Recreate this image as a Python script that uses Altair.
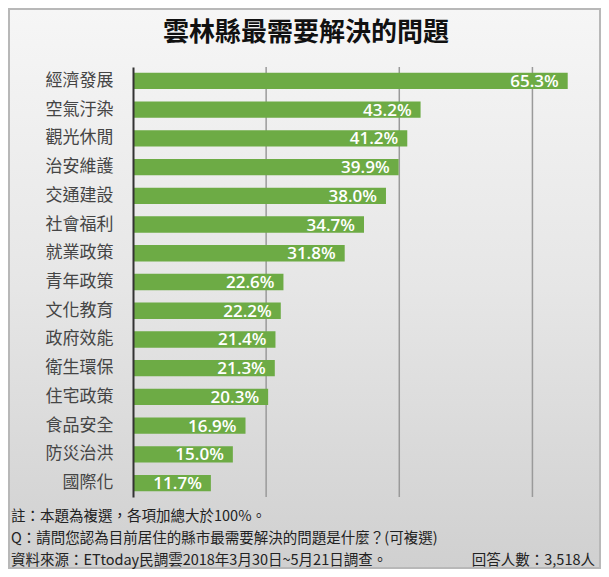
import altair as alt
import pandas as pd

categories = ["經濟發展", "空氣汙染", "觀光休閒", "治安維護", "交通建設", "社會福利", "就業政策",
              "青年政策", "文化教育", "政府效能", "衛生環保", "住宅政策", "食品安全", "防災治洪", "國際化"]
values = [65.3, 43.2, 41.2, 39.9, 38.0, 34.7, 31.8, 22.6, 22.2, 21.4, 21.3, 20.3, 16.9, 15.0, 11.7]
title_text = "雲林縣最需要解決的問題"
note_lines = ["註：本題為複選，各項加總大於100%。",
              "Q：請問您認為目前居住的縣市最需要解決的問題是什麼？(可複選)",
              "資料來源：ETtoday民調雲2018年3月30日~5月21日調查。"]
respondents = "回答人數：3,518人"

df = pd.DataFrame({"cat": categories, "val": values})
df["label"] = [f"{v:.1f}%" for v in values]

FONT = "Noto Sans CJK TC"
W, H = 466, 430

grad = {"gradient": "linear", "x1": 0, "x2": 0, "y1": 0, "y2": 1,
        "stops": [{"color": "#f6f6f6", "offset": 0},
                  {"color": "#e6e6e6", "offset": 0.5},
                  {"color": "#d0d0d0", "offset": 1}]}

bg = alt.Chart(pd.DataFrame({"a": [0]})).mark_rect(
    fill=grad, stroke="#b8b8b8", strokeWidth=2
).encode(x=alt.value(-124), x2=alt.value(W + 1), y=alt.value(-58), y2=alt.value(H + 71))

xscale = alt.Scale(domain=[0, 70])
yenc = alt.Y("cat:N", sort=categories, scale=alt.Scale(paddingInner=0.43, paddingOuter=0.2),
             axis=alt.Axis(title=None, labelFont=FONT, labelFontSize=17, labelColor="#454545",
                           labelPadding=20, ticks=False, domain=True, domainColor="#333333",
                           domainWidth=2, zindex=1))

grid = alt.Chart(pd.DataFrame({"g": [20, 40, 60]})).mark_rule(color="#9a9a9a", strokeWidth=1.5).encode(
    x=alt.X("g:Q", scale=xscale, axis=None), y=alt.value(0), y2=alt.value(H))

bars = alt.Chart(df).mark_bar(color="#6dab45").encode(
    x=alt.X("val:Q", scale=xscale, axis=None),
    y=yenc)

labels = alt.Chart(df).mark_text(align="right", baseline="middle", dx=-9, dy=1, color="white",
                                 font="Open Sans", fontSize=17, fontWeight=600).encode(
    x=alt.X("val:Q", scale=xscale), y=alt.Y("cat:N", sort=categories), text="label:N")

title = alt.Chart(pd.DataFrame({"t": [title_text]})).mark_text(
    font=FONT, fontSize=26, fontWeight="bold", color="#111111", align="center", baseline="middle"
).encode(x=alt.value(173), y=alt.value(-34), text="t:N")

notes = []
for i, line in enumerate(note_lines):
    notes.append(alt.Chart(pd.DataFrame({"t": [line]})).mark_text(
        font=FONT, fontSize=14.5, color="#222222", align="left", baseline="middle"
    ).encode(x=alt.value(-122), y=alt.value(H + 20 + 22 * i), text="t:N"))

resp = alt.Chart(pd.DataFrame({"t": [respondents]})).mark_text(
    font=FONT, fontSize=14.5, color="#222222", align="right", baseline="middle"
).encode(x=alt.value(W - 4), y=alt.value(H + 64), text="t:N")

chart = alt.layer(bg, grid, bars, labels, title, *notes, resp).properties(
    width=W, height=H,
    autosize=alt.AutoSizeParams(type="none"),
    padding={"left": 125, "top": 59, "right": 2, "bottom": 72},
    background="white"
).configure_view(stroke=None)

chart.save("out.html", embed_options={"renderer": "svg", "actions": False})
